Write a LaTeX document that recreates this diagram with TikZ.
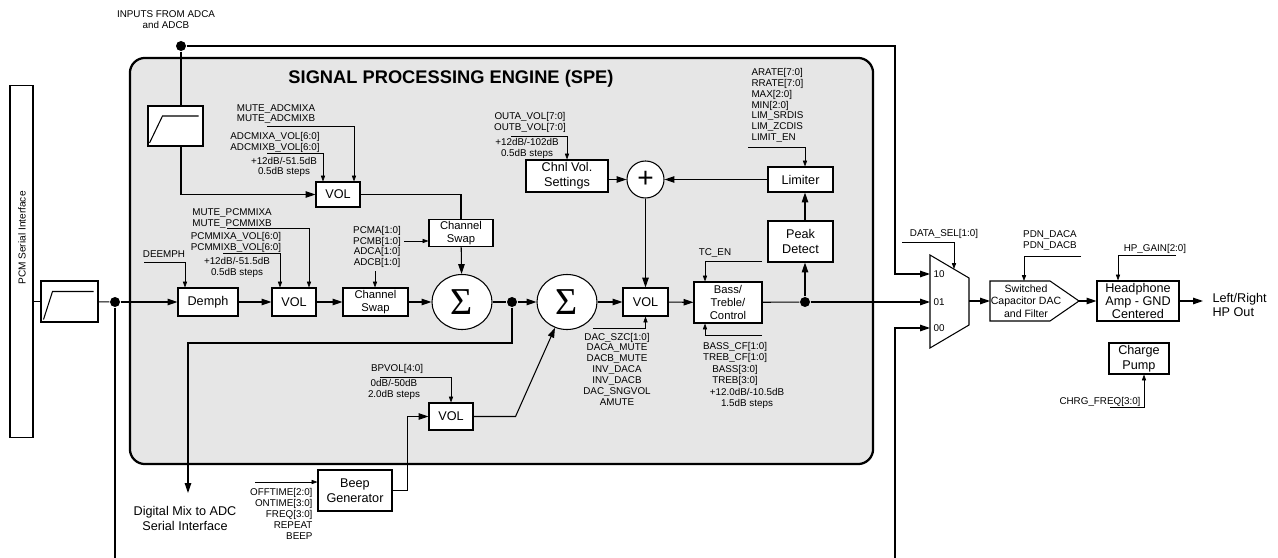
\documentclass[tikz,border=0pt]{standalone}
\usepackage{fontspec}
\setmainfont{Liberation Sans}
\newfontfamily\greekserif{Liberation Serif}
\usetikzlibrary{arrows.meta,calc,shapes.geometric}
\definecolor{spegray}{RGB}{230,230,230}
\tikzset{
  blk/.style={draw,fill=white,align=center,inner sep=0.5pt,font=\fontsize{9}{10.5}\selectfont},
  sblk/.style={blk,font=\fontsize{8}{9}\selectfont},
  lbl/.style={align=center,inner sep=0pt,font=\fontsize{7}{7.7}\selectfont},
  jdot/.style={circle,fill,inner sep=0pt,minimum size=0.25cm},
  sumnode/.style={draw,fill=white,ellipse,inner sep=0pt,minimum width=1.5cm,minimum height=1.375cm,font=\greekserif\fontsize{27}{27}\selectfont},
  ctl/.style={->,line width=0.5pt,>={Triangle[length=4.2pt,width=3pt]}}
}
\begin{document}
\begin{tikzpicture}[x=0.025cm,y=-0.025cm,line width=0.75pt,>={Triangle[length=7pt,width=4.6pt]}]
    \useasboundingbox (0,0) rectangle (1278,558);
    \node[draw,fill=spegray,rounded corners=0.375cm,line width=1.6pt,minimum width=18.575cm,minimum height=10.15cm] (spe) at (501.5,261) {};
    \node[font=\bfseries\fontsize{13}{15}\selectfont] (ttl) at (451,79) {SIGNAL PROCESSING ENGINE (SPE)};

    \node[draw,minimum width=0.575cm,minimum height=8.775cm] (pcm) at (21.5,261.5) {};
    \node[rotate=90,font=\fontsize{7.2}{9}\selectfont] (pcmlbl) at (22,238) {PCM Serial Interface};
    \node[blk,minimum width=1.425cm,minimum height=1.025cm] (flt1) at (69.5,301.5) {};
    \draw (flt1.center) ++(-26,18) -- ++(9,-28) -- ++(41,0);
    \node[blk,minimum width=1.375cm,minimum height=1cm] (flt2) at (175.5,126) {};
    \draw (flt2.center) ++(-26,17) -- ++(13,-27) -- ++(36,0);

    \node[jdot] (dpcm) at (115,302) {};
    \node[jdot] (dadc) at (181,46) {};
    \node[jdot] (dmix) at (512,302) {};
    \node[jdot] (dout) at (805,302) {};

    \node[blk,minimum width=1.5cm,minimum height=0.7cm] (dem) at (208,302) {Demph};
    \node[blk,minimum width=1.1cm,minimum height=0.7cm] (volp) at (294,302) {VOL};
    \node[sblk,minimum width=1.625cm,minimum height=0.7cm] (swp) at (375.5,302) {Channel\\Swap};
    \node[sumnode] (sum1) at (462,302) {Σ};
    \node[sumnode] (sum2) at (567,302) {Σ};
    \node[blk,minimum width=1.125cm,minimum height=0.7cm] (vold) at (645.5,302) {VOL};
    \node[sblk,minimum width=1.7cm,minimum height=1.025cm] (tone) at (728,302.5) {Bass/\\Treble/\\Control};
    \node[blk,minimum width=1.625cm,minimum height=1.025cm] (peak) at (800.5,241.5) {Peak\\Detect};
    \node[blk,minimum width=1.625cm,minimum height=0.625cm] (lim) at (800.5,179.5) {Limiter};
    \node[draw,fill=white,circle,inner sep=0pt,minimum size=0.925cm,font=\fontsize{20}{20}\selectfont] (add) at (645.5,179.5) {+};
    \node[blk,minimum width=2.05cm,minimum height=0.8cm] (chv) at (567,176) {Chnl Vol.\\Settings};
    \node[sblk,minimum width=1.6cm,minimum height=0.675cm] (swa) at (461,233) {Channel\\Swap};
    \node[blk,minimum width=1.1cm,minimum height=0.625cm] (vola) at (338,194.5) {VOL};
    \node[blk,minimum width=1.1cm,minimum height=0.675cm] (volb) at (451,416.5) {VOL};
    \node[blk,minimum width=1.85cm,minimum height=1.025cm] (beep) at (355,490.5) {Beep\\Generator};

    \draw[fill=white] (930,255) -- (969,278) -- (969,325) -- (930,348) -- cycle;
    \coordinate (m10) at (930,274);
    \coordinate (m01) at (930,302);
    \coordinate (m00) at (930,328);
    \coordinate (mout) at (969,301);
    \coordinate (mtop) at (954,269);
    \node[lbl,anchor=west] (l10) at (933,274) {10};
    \node[lbl,anchor=west] (l01) at (933,302) {01};
    \node[lbl,anchor=west] (l00) at (933,328) {00};

    \draw[fill=white] (990,281) -- (1050,281) -- (1079,301) -- (1050,321) -- (990,321) -- cycle;
    \coordinate (dacw) at (990,301);
    \coordinate (dace) at (1079,301);
    \coordinate (dacn) at (1024,281);
    \node[align=center,inner sep=0pt,font=\fontsize{7.5}{8.9}\selectfont] (dac) at (1026,301) {Switched\\Capacitor DAC\\and Filter};
    \node[blk,font=\fontsize{9}{9}\selectfont,minimum width=2.05cm,minimum height=1cm] (hpa) at (1138,301) {Headphone\\Amp - GND\\Centered};
    \node[blk,minimum width=1.5cm,minimum height=0.775cm] (cpump) at (1139,358.5) {Charge\\Pump};
    \node[anchor=west,align=left,inner sep=0pt,font=\fontsize{9}{9.5}\selectfont] (hpout) at (1212,305) {Left/Right\\HP Out};
    \node[align=center,inner sep=0pt,font=\fontsize{9}{11}\selectfont] (dmxlbl) at (185,518.5) {Digital Mix to ADC\\Serial Interface};

    \node[lbl] (inlbl) at (166,20) {INPUTS FROM ADCA\\and ADCB};
    \node[lbl] (mutea) at (276,114) {MUTE\_ADCMIXA\\MUTE\_ADCMIXB};
    \node[lbl] (gaina) at (275,142.5) {ADCMIXA\_VOL[6:0]\\ADCMIXB\_VOL[6:0]};
    \node[lbl] (rnga) at (284,167) {+12dB/-51.5dB\\0.5dB steps};
    \node[lbl] (deem) at (164,254) {DEEMPH};
    \node[lbl] (mutep) at (232,218.5) {MUTE\_PCMMIXA\\MUTE\_PCMMIXB};
    \node[lbl] (gainp) at (236,242.5) {PCMMIXA\_VOL[6:0]\\PCMMIXB\_VOL[6:0]};
    \node[lbl] (rngp) at (237,267.5) {+12dB/-51.5dB\\0.5dB steps};
    \node[lbl] (chsel) at (377,247) {PCMA[1:0]\\PCMB[1:0]\\ADCA[1:0]\\ADCB[1:0]};
    \node[lbl] (outvol) at (530,122.5) {OUTA\_VOL[7:0]\\OUTB\_VOL[7:0]};
    \node[lbl] (rngo) at (527,148.5) {+12dB/-102dB\\0.5dB steps};
    \node[lbl,anchor=west,align=left] (limset) at (751,105.5) {ARATE[7:0]\\RRATE[7:0]\\MAX[2:0]\\MIN[2:0]\\LIM\_SRDIS\\LIM\_ZCDIS\\LIMIT\_EN};
    \node[lbl] (tcen) at (715,253) {TC\_EN};
    \node[lbl] (dacset) at (617,369) {DAC\_SZC[1:0]\\DACA\_MUTE\\DACB\_MUTE\\INV\_DACA\\INV\_DACB\\DAC\_SNGVOL\\AMUTE};
    \node[lbl] (bcf) at (735,352.5) {BASS\_CF[1:0]\\TREB\_CF[1:0]};
    \node[lbl] (bgain) at (735,375.5) {BASS[3:0]\\TREB[3:0]};
    \node[lbl] (rngb) at (747,398.5) {+12.0dB/-10.5dB\\1.5dB steps};
    \node[lbl] (bpvol) at (397,369) {BPVOL[4:0]};
    \node[lbl] (rngbp) at (394,389.5) {0dB/-50dB\\2.0dB steps};
    \node[lbl,anchor=east,align=right] (beepset) at (313,514) {OFFTIME[2:0]\\ONTIME[3:0]\\FREQ[3:0]\\REPEAT\\BEEP};
    \node[lbl] (dsel) at (944,234) {DATA\_SEL[1:0]};
    \node[lbl] (pdn) at (1050,240.5) {PDN\_DACA\\PDN\_DACB};
    \node[lbl] (hpg) at (1155,249) {HP\_GAIN[2:0]};
    \node[lbl] (chg) at (1100,402) {CHRG\_FREQ[3:0]};

    \coordinate (cbl) at (115,558);
    \coordinate (ctr) at (895,46);
    \coordinate (cbr) at (895,558);
    \coordinate (cdmx) at (188,493);
    \coordinate (chpo) at (1203,301);
    \draw (flt1.west -| pcm.east) -- (flt1.west);
    \draw (flt1) -- (dpcm);
    \draw (dpcm) -- (cbl);
    \draw[->] (dpcm) -- (dem);
    \draw[->] (dem) -- (volp);
    \draw[->] (volp) -- (swp);
    \draw[->] (swp) -- (sum1);
    \draw (sum1) -- (dmix);
    \draw[->] (dmix) -- (sum2);
    \draw[->] (sum2) -- (vold);
    \draw[->] (vold) -- (tone);
    \draw (tone) -- (dout);
    \draw[->] (dout) -- (m01);
    \draw[->] (dout) -- (dout |- peak.south);
    \draw[->] (dout |- peak.north) -- (dout |- lim.south);
    \draw[->] (lim) -- (add);
    \draw[->] (chv.east |- add) -- (add);
    \draw[->] (add) -- (vold);
    \draw (dadc) -- (flt2.north -| dadc);
    \draw[->] (flt2.south -| dadc) |- (vola.west);
    \draw[->] (dadc) -- (ctr) |- (m10);
    \draw[->] (cbr) |- (m00);
    \draw (vola.east) -| (swa.north);
    \draw[->] (swa) -- (sum1);
    \draw[->] (dmix) -- ++(0,41) -| (cdmx);
    \draw[->] (beep.east) -- ++(15,0) |- (volb.west);
    \draw[->] (volb.east) -- ++(42,0) -- (sum2.-115);
    \draw[->] (mout) -- (dacw);
    \draw[->] (dace) -- (dace -| hpa.west);
    \draw[->] (hpa.east) -- (chpo);

    \coordinate (cmutea) at (267,126);
    \coordinate (cgaina) at (267,153);
    \coordinate (cdeem) at (144,262);
    \coordinate (cmutep) at (227,228);
    \coordinate (cgainp) at (223,253);
    \coordinate (cchsel) at (404,241);
    \coordinate (cswp) at (375,271);
    \coordinate (cout) at (511,136);
    \coordinate (clim) at (748,147);
    \coordinate (ctc) at (762,261);
    \coordinate (cbass) at (762,335);
    \coordinate (cdac) at (593,328);
    \coordinate (cbp) at (380,377);
    \coordinate (cbeep) at (255,482);
    \coordinate (csel) at (902,242);
    \coordinate (cpdn) at (1081,256);
    \coordinate (chpg) at (1176,255);
    \coordinate (cchg) at (1110,407);
    \draw[ctl] (cmutea) -| ($(vola.north)+(16,0)$);
    \draw[ctl] (cgaina) -| ($(vola.north)+(-15,0)$);
    \draw[ctl] (cdeem) -| ($(dem.north)+(-23,0)$);
    \draw[ctl] (cmutep) -| ($(volp.north)+(15,0)$);
    \draw[ctl] (cgainp) -| ($(volp.north)+(-14,0)$);
    \draw[ctl] (cchsel) -- (cchsel -| swa.west);
    \draw[ctl] (cswp) -- (cswp |- swp.north);
    \draw[ctl] (cout) -| (chv.north);
    \draw[ctl] (clim) -| (lim.north -| dout);
    \draw[ctl] (ctc) -| ($(tone.north)+(-23,0)$);
    \draw[ctl] (cbass) -| ($(tone.south)+(-23,0)$);
    \draw[ctl] (cdac) -| (vold.south);
    \draw[ctl] (cbp) -| (volb.north);
    \draw[ctl] (cbeep) -- (cbeep -| beep.west);
    \draw[ctl] (csel) -| (mtop);
    \draw[ctl] (cpdn) -| (dacn);
    \draw[ctl] (chpg) -| ($(hpa.north)+(-20,0)$);
    \draw[ctl] (cchg) -| ($(cpump.south)+(5,0)$);
\end{tikzpicture}
\end{document}
